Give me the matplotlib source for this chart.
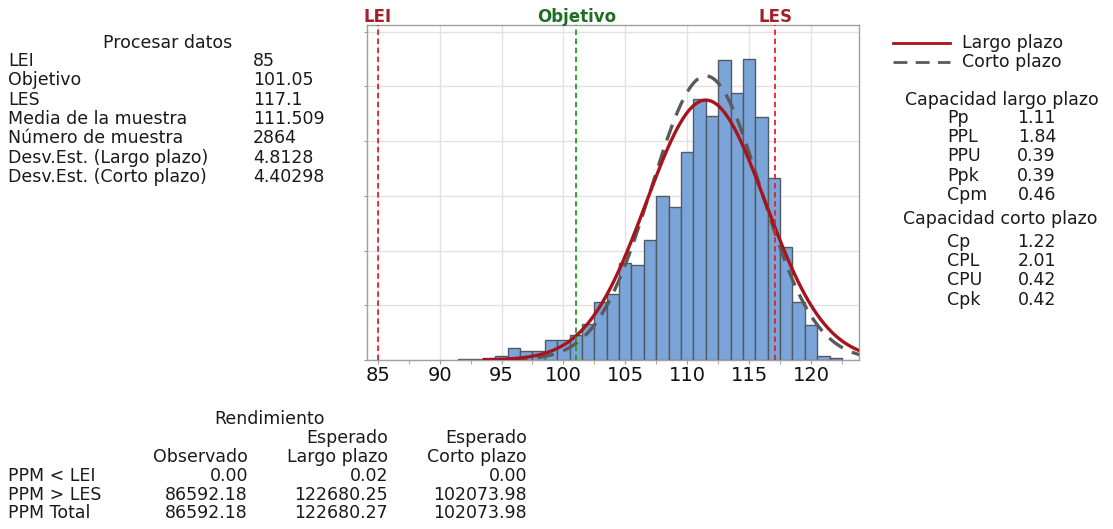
import numpy as np
import matplotlib
matplotlib.use("Agg")
import matplotlib.pyplot as plt

# ---------------- data ----------------
BIN_CENTERS = [92, 93, 94, 95, 96, 97, 98, 99, 100, 101, 102, 103, 104, 105, 106,
               107, 108, 109, 110, 111, 112, 113, 114, 115, 116, 117, 118, 119,
               120, 121, 122]
COUNTS = [1, 1, 2, 4, 11, 8, 8, 18, 18, 23, 33, 53, 60, 89, 87,
          110, 150, 140, 190, 238, 223, 274, 244, 275, 222, 166, 103, 53,
          32, 4, 2]
BIN_WIDTH = 1.0
LEI = 85
OBJETIVO = 101.05
LES = 117.1
MEAN = 111.509
N = 2864
SD_LT = 4.8128
SD_ST = 4.40298
X_TICKS = [85, 90, 95, 100, 105, 110, 115, 120]

PROC_LABELS = ["LEI", "Objetivo", "LES", "Media de la muestra", "Número de muestra",
               "Desv.Est. (Largo plazo)", "Desv.Est. (Corto plazo)"]
PROC_VALUES = ["85", "101.05", "117.1", "111.509", "2864", "4.8128", "4.40298"]

LT_LABELS = ["Pp", "PPL", "PPU", "Ppk", "Cpm"]
LT_VALUES = ["1.11", "1.84", "0.39", "0.39", "0.46"]
ST_LABELS = ["Cp", "CPL", "CPU", "Cpk"]
ST_VALUES = ["1.22", "2.01", "0.42", "0.42"]

REND_ROWS = ["PPM < LEI", "PPM > LES", "PPM Total"]
REND_OBS = ["0.00", "86592.18", "86592.18"]
REND_LT = ["0.02", "122680.25", "122680.27"]
REND_ST = ["0.00", "102073.98", "102073.98"]

# ---------------- figure ----------------
W, H = 1113, 529
plt.rcParams['font.family'] = ['DejaVu Sans']
fig = plt.figure(figsize=(W / 100, H / 100), dpi=100)
fig.patch.set_facecolor("white")

def fx(x):
    return x / W

def fy(y):
    return 1 - y / H

ax_l, ax_r, ax_t, ax_b = 366.7, 859, 25, 360
ax = fig.add_axes([fx(ax_l), fy(ax_b), fx(ax_r - ax_l), (ax_b - ax_t) / H])

ax.bar(BIN_CENTERS, COUNTS, width=BIN_WIDTH, color="#7ba4d8", edgecolor="#505a64",
       linewidth=1.0, zorder=2)

xs = np.linspace(93.6, 124, 500)
def curve(sd):
    return N * BIN_WIDTH / (sd * np.sqrt(2 * np.pi)) * np.exp(-0.5 * ((xs - MEAN) / sd) ** 2)

ax.plot(xs, curve(SD_ST), color="#5a5a5a", lw=2.4, ls=(0, (5, 3)), zorder=3)
ax.plot(xs, curve(SD_LT), color="#a8141c", lw=2.4, zorder=4)

for v, c in [(LEI, "#e0232b"), (OBJETIVO, "#1aa21a"), (LES, "#e0232b")]:
    ax.axvline(v, color=c, lw=1.3, ls=(0, (3, 2)), zorder=5)

ax.set_xlim(84.11, 123.88)
ax.set_ylim(0, 306)
ax.set_xticks(X_TICKS)
ax.set_xticklabels([str(t) for t in X_TICKS], fontsize=14, color="#111111")
ax.set_xticks([87.5, 92.5, 97.5, 102.5, 107.5, 112.5, 117.5, 122.5], minor=True)
ax.set_yticks([0, 50, 100, 150, 200, 250, 300])
ax.set_yticklabels([])
ax.tick_params(axis="y", length=2, color="#999999")
ax.tick_params(axis="x", which="major", length=3, color="#999999", pad=1)
ax.tick_params(axis="x", which="minor", length=3, color="#999999")
ax.grid(True, color="#e2e2e2", lw=1.0, zorder=0)
ax.set_axisbelow(True)
for s in ax.spines.values():
    s.set_color("#a0a0a0")
    s.set_linewidth(1.0)

# spec labels above the axes
def data_to_px(v):
    return ax_l + (v - 84.11) / (123.88 - 84.11) * (ax_r - ax_l)

for v, t, c in [(LEI, "LEI", "#a3202a"), (OBJETIVO, "Objetivo", "#1f6e24"), (LES, "LES", "#a3202a")]:
    fig.text(fx(data_to_px(v)), fy(16.5), t, color=c, fontsize=12, fontweight="bold",
             ha="center", va="center")

# ---------------- left panel ----------------
TXT = "#1a1a1a"
FS = 12.5
fig.text(fx(168), fy(43), "Procesar datos", fontsize=FS, color=TXT, ha="center", va="center")
for i, (lab, val) in enumerate(zip(PROC_LABELS, PROC_VALUES)):
    y = 61 + i * 19.3
    fig.text(fx(8), fy(y), lab, fontsize=FS, color=TXT, ha="left", va="center")
    fig.text(fx(253), fy(y), val, fontsize=FS, color=TXT, ha="left", va="center")

# ---------------- right panel ----------------
fig.add_artist(plt.Line2D([fx(893), fx(950)], [fy(43), fy(43)], color="#a8141c", lw=2.0))
fig.add_artist(plt.Line2D([fx(893), fx(950)], [fy(62), fy(62)], color="#5a5a5a", lw=2.0,
                          ls=(0, (5, 3))))
fig.text(fx(962), fy(43), "Largo plazo", fontsize=FS, color=TXT, ha="left", va="center")
fig.text(fx(962), fy(62), "Corto plazo", fontsize=FS, color=TXT, ha="left", va="center")

fig.text(fx(1002), fy(100), "Capacidad largo plazo", fontsize=FS, color=TXT, ha="center", va="center")
for i, (lab, val) in enumerate(zip(LT_LABELS, LT_VALUES)):
    y = 118 + i * 19.2
    fig.text(fx(947), fy(y), lab, fontsize=FS, color=TXT, ha="left", va="center")
    fig.text(fx(1056), fy(y), val, fontsize=FS, color=TXT, ha="right", va="center")

fig.text(fx(1000), fy(219), "Capacidad corto plazo", fontsize=FS, color=TXT, ha="center", va="center")
for i, (lab, val) in enumerate(zip(ST_LABELS, ST_VALUES)):
    y = 242 + i * 19.2
    fig.text(fx(947), fy(y), lab, fontsize=FS, color=TXT, ha="left", va="center")
    fig.text(fx(1056), fy(y), val, fontsize=FS, color=TXT, ha="right", va="center")

# ---------------- bottom table ----------------
fig.text(fx(270), fy(419), "Rendimiento", fontsize=FS, color=TXT, ha="center", va="center")
fig.text(fx(388), fy(438), "Esperado", fontsize=FS, color=TXT, ha="right", va="center")
fig.text(fx(527), fy(438), "Esperado", fontsize=FS, color=TXT, ha="right", va="center")
fig.text(fx(248), fy(457), "Observado", fontsize=FS, color=TXT, ha="right", va="center")
fig.text(fx(388), fy(457), "Largo plazo", fontsize=FS, color=TXT, ha="right", va="center")
fig.text(fx(527), fy(457), "Corto plazo", fontsize=FS, color=TXT, ha="right", va="center")
for i, row in enumerate(REND_ROWS):
    y = 476 + i * 18.5
    fig.text(fx(8), fy(y), row, fontsize=FS, color=TXT, ha="left", va="center")
    fig.text(fx(248), fy(y), REND_OBS[i], fontsize=FS, color=TXT, ha="right", va="center")
    fig.text(fx(388), fy(y), REND_LT[i], fontsize=FS, color=TXT, ha="right", va="center")
    fig.text(fx(527), fy(y), REND_ST[i], fontsize=FS, color=TXT, ha="right", va="center")

fig.savefig("out.png", dpi=100, facecolor="white")
